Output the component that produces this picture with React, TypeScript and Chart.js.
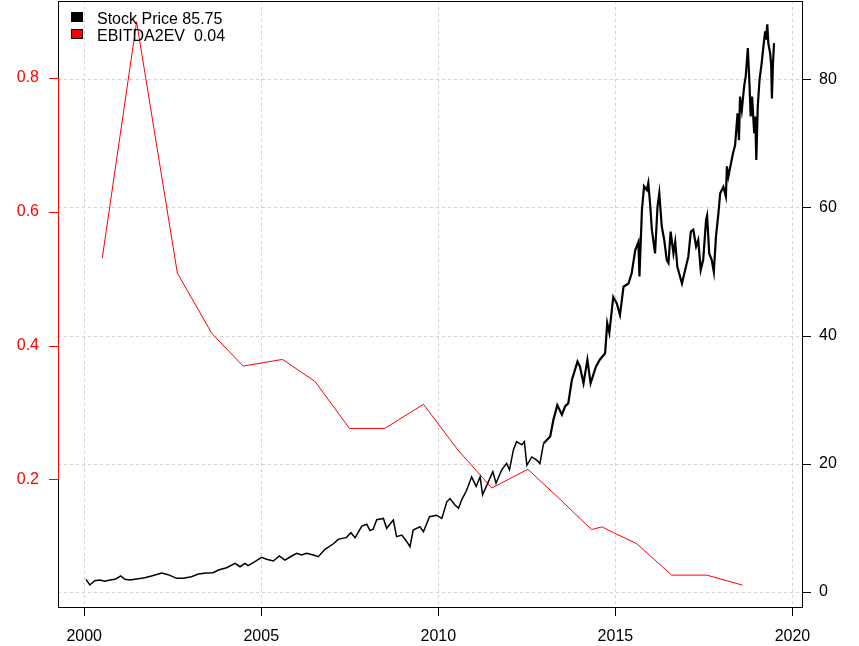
import React, { useEffect, useRef } from 'react';
import { Chart, registerables } from 'chart.js';

Chart.register(...registerables);

// stock price (right axis)
const stockYears = [
  2000.05, 2000.16, 2000.3, 2000.44, 2000.58, 2000.73, 2000.87, 2001.03, 2001.15, 2001.29,
  2001.48, 2001.71, 2001.9, 2002.19, 2002.37, 2002.61, 2002.8, 2003.03, 2003.22, 2003.46,
  2003.64, 2003.79, 2004.02, 2004.26, 2004.4, 2004.54, 2004.63, 2004.82, 2005.01, 2005.15,
  2005.34, 2005.51, 2005.67, 2005.86, 2006.0, 2006.14, 2006.28, 2006.47, 2006.61, 2006.8,
  2007.03, 2007.17, 2007.41, 2007.53, 2007.65, 2007.84, 2007.98, 2008.07, 2008.16, 2008.26,
  2008.45, 2008.54, 2008.73, 2008.82, 2008.97, 2009.11, 2009.2, 2009.29, 2009.48, 2009.58,
  2009.75, 2009.95, 2010.1, 2010.24, 2010.33, 2010.47, 2010.57, 2010.66, 2010.8, 2010.94,
  2011.07, 2011.18, 2011.25, 2011.37, 2011.54, 2011.63, 2011.79, 2011.93, 2012.01, 2012.12,
  2012.21, 2012.36, 2012.43, 2012.5, 2012.64, 2012.78, 2012.87, 2012.97, 2013.16, 2013.25,
  2013.36, 2013.49, 2013.58, 2013.67, 2013.77, 2013.93, 2014.0, 2014.1, 2014.21, 2014.3,
  2014.45, 2014.56, 2014.71, 2014.77, 2014.83, 2014.94, 2015.04, 2015.13, 2015.23, 2015.37,
  2015.46, 2015.56, 2015.65, 2015.68, 2015.75, 2015.81, 2015.89, 2015.93, 2015.98, 2016.03,
  2016.12, 2016.19, 2016.24, 2016.31, 2016.38, 2016.45, 2016.5, 2016.56, 2016.64, 2016.69,
  2016.75, 2016.88, 2016.97, 2017.06, 2017.13, 2017.2, 2017.28, 2017.34, 2017.41, 2017.48,
  2017.56, 2017.59, 2017.65, 2017.72, 2017.78, 2017.84, 2017.91, 2017.96, 2018.05, 2018.12,
  2018.15, 2018.19, 2018.32, 2018.38, 2018.45, 2018.49, 2018.52, 2018.57, 2018.64, 2018.68,
  2018.74, 2018.79, 2018.82, 2018.86, 2018.92, 2018.95, 2018.98, 2019.02, 2019.07, 2019.13,
  2019.18, 2019.23, 2019.25, 2019.29, 2019.32, 2019.37, 2019.4, 2019.42, 2019.45, 2019.48,
];
const stockPrices = [
  1.98, 1.1, 1.77, 1.88, 1.67, 1.88, 1.98, 2.5, 1.98, 1.88,
  2.03, 2.24, 2.5, 2.97, 2.71, 2.14, 2.14, 2.4, 2.81, 2.97,
  3.02, 3.44, 3.8, 4.48, 3.95, 4.48, 4.11, 4.74, 5.42, 5.11,
  4.84, 5.63, 5.0, 5.63, 6.04, 5.78, 6.04, 5.78, 5.52, 6.67,
  7.5, 8.23, 8.54, 9.27, 8.49, 10.3, 10.6, 9.6, 9.8, 11.3,
  11.5, 9.95, 11.25, 8.65, 8.9, 7.86, 7.08, 9.69, 10.2, 9.42,
  11.77, 12.0, 11.5, 14.1, 14.6, 13.6, 13.1, 14.4, 15.9, 18.0,
  16.5, 18.0, 15.2, 16.7, 18.8, 17.0, 19.1, 20.1, 19.1, 22.2,
  23.5, 23.0, 23.5, 19.8, 21.1, 20.6, 20.1, 23.2, 24.3, 26.9,
  29.2, 27.7, 29.0, 29.5, 33.1, 36.0, 35.2, 32.6, 36.3, 32.6,
  35.2, 36.3, 37.3, 42.0, 40.5, 46.1, 45.1, 43.3, 47.7, 48.2,
  49.8, 53.4, 54.7, 49.3, 59.7, 63.4, 62.8, 63.9, 60.7, 56.6,
  52.9, 60.2, 62.3, 57.1, 55.0, 51.9, 51.4, 56.3, 52.9, 54.7,
  50.8, 48.2, 50.3, 52.4, 56.3, 56.6, 54.0, 55.0, 50.3, 51.9,
  58.1, 58.8, 52.9, 51.9, 50.0, 55.5, 59.2, 62.3, 63.3, 61.8,
  66.5, 64.9, 68.5, 69.8, 74.8, 70.6, 77.4, 75.3, 79.2, 80.5,
  85.0, 79.0, 74.3, 77.4, 71.7, 74.3, 67.5, 75.8, 80.0, 82.6,
  85.2, 87.6, 86.3, 88.7, 85.7, 84.2, 82.3, 77.1, 82.6, 85.75,
];

// EBITDA / EV (left axis)
const ebitdaYears = [
  2000.51, 2001.48, 2002.63, 2003.6, 2004.49, 2005.6, 2006.52, 2007.49, 2008.49, 2009.58,
  2010.55, 2011.51, 2012.53, 2013.44, 2014.05, 2014.33, 2014.62, 2015.04, 2015.6, 2016.59,
  2017.58, 2018.59,
];
const ebitdaValues = [
  0.531, 0.884, 0.509, 0.419, 0.37, 0.38, 0.347, 0.277, 0.277, 0.313,
  0.245, 0.188, 0.216, 0.171, 0.14, 0.126, 0.13, 0.119, 0.105, 0.058,
  0.058, 0.043,
];

const xTicks = [2000, 2005, 2010, 2015, 2020];
const leftTicks = [0.2, 0.4, 0.6, 0.8];
const rightTicks = [0, 20, 40, 60, 80];

const legendItems = [
  { text: 'Stock Price 85.75', color: '#000000' },
  { text: 'EBITDA2EV  0.04', color: '#ff0000' },
];

const FONT = '"Liberation Sans", Arial, sans-serif';
const GRID = '#d3d3d3';

const frame = {
  id: 'frame',
  afterDraw(chart: any) {
    const { ctx, chartArea } = chart;
    const left = chart.scales.yLeft;
    ctx.save();
    ctx.lineWidth = 1;
    ctx.strokeStyle = '#000';
    ctx.strokeRect(
      Math.round(chartArea.left) + 0.5,
      Math.round(chartArea.top) + 0.5,
      Math.round(chartArea.right - chartArea.left),
      Math.round(chartArea.bottom - chartArea.top)
    );
    // red axis line between first and last left tick
    ctx.strokeStyle = '#ff0000';
    ctx.beginPath();
    const lx = Math.round(chartArea.left) + 0.5;
    ctx.moveTo(lx, left.getPixelForValue(leftTicks[0]));
    ctx.lineTo(lx, left.getPixelForValue(leftTicks[leftTicks.length - 1]));
    ctx.stroke();

    // legend, top left inside the box
    ctx.font = `16px ${FONT}`;
    ctx.textBaseline = 'alphabetic';
    ctx.textAlign = 'left';
    legendItems.forEach((item, i) => {
      const y = 12 + i * 17;
      ctx.fillStyle = item.color;
      ctx.fillRect(71, y, 12, 10);
      ctx.strokeStyle = '#000';
      ctx.strokeRect(71.5, y + 0.5, 11, 9);
      ctx.fillStyle = '#000';
      ctx.fillText(item.text, 97, y + 12);
    });
    ctx.restore();
  },
};

const App: React.FC = () => {
  const chartRef = useRef<HTMLCanvasElement>(null);

  useEffect(() => {
    if (!chartRef.current) return;
    const myChart = new Chart(chartRef.current, {
      type: 'line',
      data: {
        datasets: [
          {
            label: 'Stock Price',
            data: stockYears.map((x, i) => ({ x, y: stockPrices[i] })),
            borderColor: '#000000',
            borderWidth: 1.5,
            segment: {
              borderWidth: (c: any) => (c.p0.parsed.x > 2012.9 ? 2.2 : 1.5),
            },
            pointRadius: 0,
            tension: 0,
            yAxisID: 'yRight',
          },
          {
            label: 'EBITDA2EV',
            data: ebitdaYears.map((x, i) => ({ x, y: ebitdaValues[i] })),
            borderColor: '#ff0000',
            borderWidth: 1,
            pointRadius: 0,
            tension: 0,
            yAxisID: 'yLeft',
          },
        ],
      },
      options: {
        animation: false,
        responsive: true,
        maintainAspectRatio: false,
        layout: { padding: { top: 1, left: 0, right: 0, bottom: 0 } },
        plugins: {
          legend: { display: false },
          tooltip: { enabled: false },
        },
        scales: {
          x: {
            type: 'linear',
            min: 1999.26,
            max: 2020.27,
            afterBuildTicks: (axis: any) => {
              axis.ticks = xTicks.map((v) => ({ value: v }));
            },
            afterFit: (axis: any) => {
              axis.height = 39;
              axis.paddingLeft = 0;
              axis.paddingRight = 0;
            },
            grid: {
              color: GRID,
              tickColor: '#000',
              tickLength: 9,
              tickWidth: 1,
              tickBorderDash: [],
            },
            border: { display: false, dash: [3, 3] },
            ticks: {
              color: '#000',
              font: { family: FONT, size: 16 },
              padding: 11,
              maxRotation: 0,
              autoSkip: false,
              callback: (v: any) => String(v),
            },
          },
          yLeft: {
            type: 'linear',
            position: 'left',
            min: 0.0104,
            max: 0.915,
            afterBuildTicks: (axis: any) => {
              axis.ticks = leftTicks.map((v) => ({ value: v }));
            },
            afterFit: (axis: any) => {
              axis.width = 58;
              axis.paddingTop = 0;
              axis.paddingBottom = 0;
            },
            grid: {
              drawOnChartArea: false,
              tickColor: '#ff0000',
              tickLength: 9,
              tickWidth: 1,
            },
            border: { display: false },
            ticks: {
              color: '#ff0000',
              font: { family: FONT, size: 16 },
              padding: 10,
              autoSkip: false,
              callback: (v: any) => Number(v).toFixed(1),
            },
          },
          yRight: {
            type: 'linear',
            position: 'right',
            min: -2.34,
            max: 92.34,
            afterBuildTicks: (axis: any) => {
              axis.ticks = rightTicks.map((v) => ({ value: v }));
            },
            afterFit: (axis: any) => {
              axis.width = 57;
              axis.paddingTop = 0;
              axis.paddingBottom = 0;
            },
            grid: {
              color: GRID,
              tickColor: '#000',
              tickLength: 9,
              tickWidth: 1,
              tickBorderDash: [],
            },
            border: { display: false, dash: [3, 3] },
            ticks: {
              color: '#000',
              font: { family: FONT, size: 16 },
              padding: 8,
              autoSkip: false,
              callback: (v: any) => String(v),
            },
          },
        },
      },
      plugins: [frame],
    });

    return () => {
      myChart.destroy();
    };
  }, []);

  return (
    <div style={{ position: 'absolute', left: 0, top: 0, width: 859, height: 646, background: '#fff' }}>
      <canvas ref={chartRef} />
    </div>
  );
};

export default App;
